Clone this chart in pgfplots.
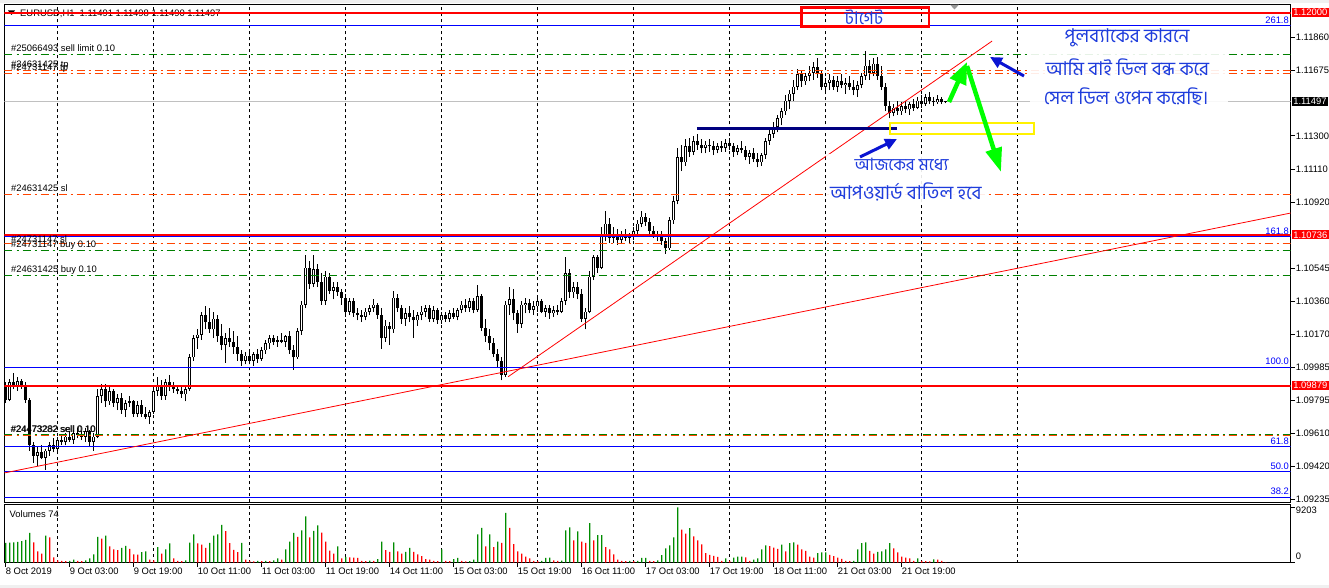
\documentclass[border=0pt]{standalone}
\usepackage{fontspec}
\usepackage{pgfplots}
\usepackage{pgfplotstable}
\pgfplotsset{compat=1.18}
\usetikzlibrary{arrows.meta}
\setmainfont{Liberation Sans}
\newfontfamily\bn[Script=Bengali]{Hind Siliguri}

\definecolor{mtgreen}{RGB}{0,128,0}
\definecolor{mtorange}{RGB}{255,69,0}
\definecolor{mtnavy}{RGB}{0,0,128}
\definecolor{mtlime}{RGB}{0,255,0}
\definecolor{mtbid}{RGB}{192,192,192}
\definecolor{fibblue}{RGB}{0,0,255}
\definecolor{notblue}{RGB}{30,60,220}
\definecolor{arrblue}{RGB}{10,20,210}
\definecolor{chrome}{RGB}{240,240,240}
\definecolor{volup}{RGB}{0,140,0}
\definecolor{voldn}{RGB}{255,0,0}

\newcommand\lbl{\fontsize{9.4}{10}\selectfont}

% H1 bars, bar 0 = 8 Oct 2019 11:00; v = tick volume, u = 1 when volume rose
\pgfplotstableread{
i o h l c v u
0 1.09870 1.09900 1.09780 1.09800 3300 1
1 1.09800 1.09920 1.09790 1.09900 3350 1
2 1.09900 1.09950 1.09860 1.09880 3400 1
3 1.09880 1.09930 1.09850 1.09905 3450 1
4 1.09905 1.09920 1.09860 1.09875 3600 1
5 1.09875 1.09900 1.09780 1.09800 3800 1
6 1.09800 1.09810 1.09510 1.09540 4950 1
7 1.09540 1.09560 1.09440 1.09480 3400 0
8 1.09480 1.09530 1.09420 1.09500 1900 0
9 1.09500 1.09540 1.09460 1.09470 1500 0
10 1.09470 1.09520 1.09400 1.09510 4500 1
11 1.09510 1.09560 1.09480 1.09540 4200 0
12 1.09540 1.09580 1.09500 1.09520 900 0
13 1.09520 1.09590 1.09500 1.09570 400 0
14 1.09570 1.09600 1.09540 1.09560 300 0
15 1.09560 1.09610 1.09540 1.09590 250 0
16 1.09590 1.09620 1.09560 1.09570 300 1
17 1.09570 1.09630 1.09550 1.09610 500 1
18 1.09610 1.09640 1.09580 1.09600 300 0
19 1.09600 1.09620 1.09570 1.09590 250 0
20 1.09590 1.09640 1.09560 1.09620 400 1
21 1.09620 1.09630 1.09530 1.09560 700 1
22 1.09560 1.09610 1.09510 1.09590 1400 1
23 1.09590 1.09860 1.09580 1.09820 4300 1
24 1.09820 1.09890 1.09780 1.09860 4000 0
25 1.09860 1.09890 1.09760 1.09790 4500 1
26 1.09790 1.09880 1.09770 1.09850 2700 0
27 1.09850 1.09860 1.09760 1.09780 2200 0
28 1.09780 1.09830 1.09740 1.09810 2100 0
29 1.09810 1.09840 1.09720 1.09740 2450 1
30 1.09740 1.09800 1.09700 1.09780 2800 1
31 1.09780 1.09820 1.09760 1.09790 2300 0
32 1.09790 1.09800 1.09700 1.09720 1400 0
33 1.09720 1.09790 1.09700 1.09770 1350 0
34 1.09770 1.09800 1.09700 1.09720 1750 1
35 1.09720 1.09760 1.09690 1.09700 1900 1
36 1.09700 1.09740 1.09660 1.09730 500 0
37 1.09730 1.09870 1.09720 1.09850 400 0
38 1.09850 1.09930 1.09820 1.09880 2600 1
39 1.09880 1.09910 1.09800 1.09820 1500 0
40 1.09820 1.09920 1.09800 1.09900 2200 1
41 1.09900 1.09940 1.09850 1.09870 3200 1
42 1.09870 1.09900 1.09840 1.09860 700 0
43 1.09860 1.09880 1.09830 1.09850 300 0
44 1.09850 1.09870 1.09810 1.09830 250 0
45 1.09830 1.09880 1.09790 1.09860 400 1
46 1.09860 1.10060 1.09850 1.10040 3350 1
47 1.10040 1.10170 1.10020 1.10150 4700 1
48 1.10150 1.10200 1.10090 1.10170 3200 0
49 1.10170 1.10300 1.10140 1.10280 3000 0
50 1.10280 1.10330 1.10200 1.10240 2450 0
51 1.10240 1.10320 1.10180 1.10200 3300 1
52 1.10200 1.10300 1.10150 1.10260 4500 1
53 1.10260 1.10280 1.10130 1.10160 4700 1
54 1.10160 1.10230 1.10080 1.10110 6300 1
55 1.10110 1.10180 1.10010 1.10150 5250 0
56 1.10150 1.10210 1.10100 1.10130 3250 0
57 1.10130 1.10190 1.10060 1.10100 2150 0
58 1.10100 1.10160 1.10020 1.10060 1750 0
59 1.10060 1.10080 1.09990 1.10020 3300 1
60 1.10020 1.10070 1.10000 1.10050 500 0
61 1.10050 1.10080 1.10000 1.10020 300 0
62 1.10020 1.10070 1.09990 1.10060 200 0
63 1.10060 1.10090 1.10010 1.10030 300 1
64 1.10030 1.10100 1.10020 1.10080 250 0
65 1.10080 1.10140 1.10060 1.10120 300 1
66 1.10120 1.10170 1.10090 1.10150 250 0
67 1.10150 1.10170 1.10110 1.10130 400 1
68 1.10130 1.10160 1.10100 1.10140 700 1
69 1.10140 1.10180 1.10120 1.10130 500 0
70 1.10130 1.10170 1.10100 1.10160 2200 1
71 1.10160 1.10190 1.10060 1.10080 3500 1
72 1.10080 1.10110 1.09970 1.10040 4950 1
73 1.10040 1.10210 1.10030 1.10190 4300 0
74 1.10190 1.10360 1.10170 1.10340 5400 1
75 1.10340 1.10620 1.10320 1.10550 7700 1
76 1.10550 1.10590 1.10430 1.10460 4200 0
77 1.10460 1.10620 1.10440 1.10540 5300 1
78 1.10540 1.10570 1.10440 1.10470 6200 1
79 1.10470 1.10520 1.10340 1.10360 5000 0
80 1.10360 1.10530 1.10340 1.10500 3500 0
81 1.10500 1.10520 1.10400 1.10420 2000 0
82 1.10420 1.10470 1.10370 1.10440 1500 0
83 1.10440 1.10470 1.10390 1.10410 2700 1
84 1.10410 1.10430 1.10340 1.10380 700 0
85 1.10380 1.10400 1.10270 1.10300 950 1
86 1.10300 1.10380 1.10280 1.10360 900 0
87 1.10360 1.10380 1.10270 1.10290 850 0
88 1.10290 1.10320 1.10250 1.10280 800 0
89 1.10280 1.10310 1.10240 1.10270 300 0
90 1.10270 1.10320 1.10250 1.10300 250 0
91 1.10300 1.10340 1.10280 1.10320 350 1
92 1.10320 1.10370 1.10300 1.10340 300 0
93 1.10340 1.10350 1.10260 1.10280 600 1
94 1.10280 1.10320 1.10090 1.10150 3500 1
95 1.10150 1.10250 1.10130 1.10220 2100 0
96 1.10220 1.10240 1.10110 1.10200 1800 0
97 1.10200 1.10420 1.10180 1.10380 3400 1
98 1.10380 1.10400 1.10300 1.10320 1900 0
99 1.10320 1.10340 1.10230 1.10260 1500 0
100 1.10260 1.10320 1.10220 1.10290 1800 1
101 1.10290 1.10330 1.10240 1.10270 2450 1
102 1.10270 1.10310 1.10150 1.10250 1800 0
103 1.10250 1.10300 1.10220 1.10280 1400 0
104 1.10280 1.10330 1.10250 1.10300 1100 0
105 1.10300 1.10340 1.10270 1.10320 600 0
106 1.10320 1.10340 1.10240 1.10260 500 0
107 1.10260 1.10330 1.10240 1.10310 300 0
108 1.10310 1.10320 1.10230 1.10250 250 0
109 1.10250 1.10300 1.10230 1.10280 2200 1
110 1.10280 1.10300 1.10240 1.10260 300 0
111 1.10260 1.10310 1.10240 1.10290 250 0
112 1.10290 1.10320 1.10260 1.10270 600 1
113 1.10270 1.10320 1.10250 1.10310 800 1
114 1.10310 1.10360 1.10290 1.10340 300 0
115 1.10340 1.10370 1.10300 1.10320 200 0
116 1.10320 1.10380 1.10300 1.10360 250 1
117 1.10360 1.10380 1.10290 1.10310 500 1
118 1.10310 1.10450 1.10300 1.10390 4700 1
119 1.10390 1.10400 1.10190 1.10210 5800 1
120 1.10210 1.10260 1.10130 1.10160 2700 0
121 1.10160 1.10200 1.10080 1.10120 4700 1
122 1.10120 1.10150 1.10040 1.10060 2600 0
123 1.10060 1.10090 1.09980 1.10020 3500 1
124 1.10020 1.10040 1.09910 1.09940 3300 0
125 1.09940 1.10360 1.09930 1.10340 8300 1
126 1.10340 1.10440 1.10280 1.10370 5800 0
127 1.10370 1.10430 1.10250 1.10290 3100 0
128 1.10290 1.10310 1.10180 1.10230 1900 0
129 1.10230 1.10360 1.10210 1.10340 1500 0
130 1.10340 1.10380 1.10290 1.10350 1000 0
131 1.10350 1.10370 1.10290 1.10310 700 0
132 1.10310 1.10360 1.10280 1.10330 300 0
133 1.10330 1.10380 1.10300 1.10360 250 0
134 1.10360 1.10370 1.10290 1.10300 300 1
135 1.10300 1.10340 1.10270 1.10320 800 1
136 1.10320 1.10340 1.10260 1.10290 850 1
137 1.10290 1.10330 1.10270 1.10310 400 0
138 1.10310 1.10340 1.10280 1.10300 300 0
139 1.10300 1.10380 1.10290 1.10360 350 1
140 1.10360 1.10610 1.10340 1.10520 5400 1
141 1.10520 1.10540 1.10380 1.10410 5900 1
142 1.10410 1.10470 1.10380 1.10440 3700 0
143 1.10440 1.10470 1.10370 1.10400 5200 1
144 1.10400 1.10430 1.10240 1.10260 3500 0
145 1.10260 1.10320 1.10200 1.10300 3300 0
146 1.10300 1.10530 1.10290 1.10500 6600 1
147 1.10500 1.10620 1.10480 1.10610 3700 0
148 1.10610 1.10620 1.10520 1.10550 4600 1
149 1.10550 1.10780 1.10540 1.10740 4600 1
150 1.10740 1.10870 1.10700 1.10800 2600 0
151 1.10800 1.10830 1.10690 1.10720 2200 0
152 1.10720 1.10780 1.10690 1.10740 1400 0
153 1.10740 1.10770 1.10680 1.10710 500 0
154 1.10710 1.10760 1.10690 1.10740 300 0
155 1.10740 1.10770 1.10700 1.10720 250 0
156 1.10720 1.10750 1.10690 1.10730 300 1
157 1.10730 1.10780 1.10710 1.10760 250 0
158 1.10760 1.10820 1.10740 1.10800 300 1
159 1.10800 1.10870 1.10780 1.10840 800 1
160 1.10840 1.10860 1.10790 1.10810 800 1
161 1.10810 1.10830 1.10740 1.10760 300 0
162 1.10760 1.10790 1.10720 1.10740 250 0
163 1.10740 1.10760 1.10700 1.10730 400 1
164 1.10730 1.10760 1.10680 1.10700 1250 1
165 1.10700 1.10720 1.10630 1.10660 2400 1
166 1.10660 1.10840 1.10650 1.10820 2900 1
167 1.10820 1.10960 1.10800 1.10930 4240 1
168 1.10930 1.11230 1.10910 1.11180 9203 1
169 1.11180 1.11250 1.11100 1.11150 5500 0
170 1.11150 1.11280 1.11130 1.11240 4840 0
171 1.11240 1.11290 1.11180 1.11210 5760 1
172 1.11210 1.11300 1.11190 1.11270 4400 0
173 1.11270 1.11310 1.11220 1.11250 3700 0
174 1.11250 1.11280 1.11200 1.11230 3050 0
175 1.11230 1.11270 1.11200 1.11250 1580 0
176 1.11250 1.11280 1.11210 1.11240 1300 0
177 1.11240 1.11270 1.11190 1.11220 1150 0
178 1.11220 1.11260 1.11200 1.11240 950 0
179 1.11240 1.11270 1.11210 1.11230 300 0
180 1.11230 1.11280 1.11210 1.11260 700 1
181 1.11260 1.11290 1.11220 1.11240 300 0
182 1.11240 1.11260 1.11180 1.11210 850 1
183 1.11210 1.11250 1.11190 1.11230 1000 1
184 1.11230 1.11270 1.11200 1.11220 1000 1
185 1.11220 1.11240 1.11160 1.11180 900 0
186 1.11180 1.11220 1.11140 1.11200 300 0
187 1.11200 1.11230 1.11150 1.11170 500 1
188 1.11170 1.11200 1.11120 1.11150 700 1
189 1.11150 1.11200 1.11130 1.11190 2230 1
190 1.11190 1.11290 1.11170 1.11270 2900 1
191 1.11270 1.11340 1.11250 1.11310 2750 0
192 1.11310 1.11380 1.11290 1.11350 2500 0
193 1.11350 1.11420 1.11320 1.11400 2300 0
194 1.11400 1.11460 1.11360 1.11440 3000 1
195 1.11440 1.11530 1.11420 1.11500 1900 0
196 1.11500 1.11560 1.11450 1.11540 3250 1
197 1.11540 1.11620 1.11500 1.11580 3400 1
198 1.11580 1.11680 1.11560 1.11650 3000 0
199 1.11650 1.11670 1.11580 1.11610 2230 0
200 1.11610 1.11660 1.11590 1.11640 1950 0
201 1.11640 1.11700 1.11610 1.11660 1000 0
202 1.11660 1.11720 1.11620 1.11690 850 0
203 1.11690 1.11740 1.11630 1.11650 1600 1
204 1.11650 1.11670 1.11560 1.11580 1700 1
205 1.11580 1.11630 1.11540 1.11600 1700 1
206 1.11600 1.11650 1.11560 1.11620 1300 0
207 1.11620 1.11640 1.11560 1.11580 1100 0
208 1.11580 1.11640 1.11550 1.11610 850 0
209 1.11610 1.11650 1.11570 1.11590 650 0
210 1.11590 1.11630 1.11540 1.11600 300 0
211 1.11600 1.11640 1.11560 1.11580 250 0
212 1.11580 1.11620 1.11530 1.11560 300 1
213 1.11560 1.11610 1.11520 1.11590 2230 1
214 1.11590 1.11660 1.11570 1.11640 3250 1
215 1.11640 1.11780 1.11620 1.11700 3400 1
216 1.11700 1.11730 1.11620 1.11660 1950 0
217 1.11660 1.11740 1.11640 1.11710 1500 0
218 1.11710 1.11750 1.11620 1.11640 1800 1
219 1.11640 1.11700 1.11560 1.11580 1900 1
220 1.11580 1.11600 1.11440 1.11470 2230 1
221 1.11470 1.11500 1.11400 1.11430 3250 1
222 1.11430 1.11480 1.11410 1.11460 2400 0
223 1.11460 1.11500 1.11420 1.11440 1700 0
224 1.11440 1.11490 1.11420 1.11470 1000 0
225 1.11470 1.11500 1.11430 1.11450 850 0
226 1.11450 1.11490 1.11420 1.11480 700 0
227 1.11480 1.11510 1.11440 1.11460 300 0
228 1.11460 1.11520 1.11450 1.11500 700 1
229 1.11500 1.11530 1.11460 1.11480 300 0
230 1.11480 1.11540 1.11470 1.11520 250 0
231 1.11520 1.11550 1.11480 1.11500 200 0
232 1.11500 1.11520 1.11470 1.11490 550 1
233 1.11490 1.11530 1.11480 1.11510 500 0
234 1.11510 1.11520 1.11480 1.11490 300 0
235 1.11490 1.11500 1.11485 1.11497 74 0
}\bars

\begin{document}
\begin{tikzpicture}
\useasboundingbox (0,0) rectangle (1329pt,588pt);
\fill[white] (0,0) rectangle (1329pt,588pt);
\fill[chrome] (0,585pt) rectangle (1329pt,588pt);
\fill[chrome] (0,0) rectangle (1329pt,3pt);

% header (under the level lines)
\begin{scope}[shift={(0pt,588pt)}, x=1pt, y=-1pt]
\fill[black] (8,10.5) -- (15,10.5) -- (11.5,15) -- cycle;
\node[anchor=west, inner sep=0pt, font=\lbl, text height=6.6pt, text depth=0pt] at (20,13)
  {EURUSD,H1\ \ 1.11491 1.11498 1.11490 1.11497};
\end{scope}

% ---------------- price window ----------------
\begin{axis}[
  at={(4.5pt,85.7pt)}, anchor=south west, scale only axis,
  width=1286.2pt, height=497.8pt,
  xmin=-0.3, xmax=321.25, ymin=1.09216, ymax=1.12047,
  axis line style={line width=0.8pt},
  xtick=\empty,
  extra x ticks={13,37,61,85,109,133,157,181,205,229,253},
  extra x tick labels={},
  extra x tick style={grid=major, major tick length=0pt},
  major grid style={black, line width=0.8pt, dash pattern=on 3pt off 3pt},
  ytick pos=right, tick align=outside, major tick length=4pt,
  every tick/.style={black, line width=0.8pt},
  ytick={1.09235,1.09420,1.09610,1.09795,1.09985,1.10170,1.10360,1.10545,1.10920,1.11110,1.11300,1.11675,1.11860},
  yticklabels={1.09235,1.09420,1.09610,1.09795,1.09985,1.10170,1.10360,1.10545,1.10920,1.11110,1.11300,1.11675,1.11860},
  yticklabel style={font=\lbl, inner sep=1pt},
]
% bid line
\addplot[mtbid, line width=0.8pt] coordinates {(-0.3,1.11497) (321.25,1.11497)};

% candles: wicks, bear bodies, bull bodies (outline + white core)
\addplot[black, line width=1pt, quiver={u=0, v=\thisrow{h}-\thisrow{l}}]
  table[x=i, y=l] {\bars};
\addplot[black, line width=3pt, quiver={u=0, v=\thisrow{o}-\thisrow{c}}]
  table[x=i, y expr={\thisrow{c}<\thisrow{o} ? \thisrow{c} : nan}] {\bars};
\addplot[black, line width=3pt, quiver={u=0, v={max(\thisrow{c}-\thisrow{o},0.00002)}}]
  table[x=i, y expr={\thisrow{c}>=\thisrow{o} ? \thisrow{o} : nan}] {\bars};
\addplot[white, line width=1.2pt, quiver={u=0, v=\thisrow{c}-\thisrow{o}-0.00008}]
  table[x=i, y expr={\thisrow{c}-\thisrow{o}>0.0001 ? \thisrow{o}+0.00004 : nan}] {\bars};

% order levels
\addplot[mtgreen, line width=0.8pt, dash pattern=on 8pt off 4pt on 2pt off 4pt] coordinates {(-0.3,1.11765) (321.25,1.11765)};
\addplot[mtorange, line width=0.8pt, dash pattern=on 8pt off 4pt on 2pt off 4pt] coordinates {(-0.3,1.11674) (321.25,1.11674)};
\addplot[mtorange, line width=0.8pt, dash pattern=on 8pt off 4pt on 2pt off 4pt] coordinates {(-0.3,1.11653) (321.25,1.11653)};
\addplot[mtorange, line width=0.8pt, dash pattern=on 8pt off 4pt on 2pt off 4pt] coordinates {(-0.3,1.10967) (321.25,1.10967)};
\addplot[mtorange, line width=0.8pt, dash pattern=on 8pt off 4pt on 2pt off 4pt] coordinates {(-0.3,1.10689) (321.25,1.10689)};
\addplot[mtgreen, line width=0.8pt, dash pattern=on 8pt off 4pt on 2pt off 4pt] coordinates {(-0.3,1.10649) (321.25,1.10649)};
\addplot[mtgreen, line width=0.8pt, dash pattern=on 8pt off 4pt on 2pt off 4pt] coordinates {(-0.3,1.10507) (321.25,1.10507)};
\addplot[mtorange, line width=0.8pt, dash pattern=on 8pt off 4pt on 2pt off 4pt] coordinates {(-0.3,1.09598) (321.25,1.09598)};
\addplot[mtgreen, line width=0.8pt, dash pattern=on 8pt off 4pt on 2pt off 4pt] coordinates {(-0.3,1.09603) (321.25,1.09603)};

% fibonacci levels
\addplot[fibblue, line width=0.8pt] coordinates {(-0.3,1.11926) (321.25,1.11926)};
\addplot[fibblue, line width=0.8pt] coordinates {(-0.3,1.10726) (321.25,1.10726)};
\addplot[fibblue, line width=0.8pt] coordinates {(-0.3,1.09984) (321.25,1.09984)};
\addplot[fibblue, line width=0.8pt] coordinates {(-0.3,1.09532) (321.25,1.09532)};
\addplot[fibblue, line width=0.8pt] coordinates {(-0.3,1.09390) (321.25,1.09390)};
\addplot[fibblue, line width=0.8pt] coordinates {(-0.3,1.09246) (321.25,1.09246)};

% horizontal support / resistance
\addplot[red, line width=2pt] coordinates {(-0.3,1.12000) (321.25,1.12000)};
\addplot[red, line width=2pt] coordinates {(-0.3,1.10736) (321.25,1.10736)};
\addplot[red, line width=2pt] coordinates {(-0.3,1.09879) (321.25,1.09879)};

% trend lines
\addplot[red, line width=0.8pt] coordinates {(-0.3,1.09383) (321.25,1.10861)};
\addplot[red, line width=0.8pt] coordinates {(125.6,1.09930) (246.6,1.11839)};

% breakout level and zone
\addplot[mtnavy, line width=3pt] coordinates {(172.8,1.11344) (222.8,1.11344)};
\draw[yellow, line width=2pt] (axis cs:221.1,1.11310) rectangle (axis cs:257.1,1.11373);
\end{axis}

% ---------------- volume window ----------------
\begin{axis}[
  at={(4.5pt,25.3pt)}, anchor=south west, scale only axis,
  width=1286.2pt, height=58.2pt,
  xmin=-0.3, xmax=321.25, ymin=0, ymax=9700,
  axis line style={line width=0.8pt},
  xtick={0,16,...,224},
  xticklabels={8 Oct 2019,9 Oct 03:00,9 Oct 19:00,10 Oct 11:00,11 Oct 03:00,11 Oct 19:00,14 Oct 11:00,15 Oct 03:00,15 Oct 19:00,16 Oct 11:00,17 Oct 03:00,17 Oct 19:00,18 Oct 11:00,21 Oct 03:00,21 Oct 19:00},
  xtick pos=bottom, ytick pos=right, tick align=outside, major tick length=4pt,
  every tick/.style={black, line width=0.8pt},
  xticklabel style={font=\lbl, anchor=north west, inner sep=1pt, xshift=-1pt},
  extra x ticks={13,37,61,85,109,133,157,181,205,229,253},
  extra x tick labels={},
  extra x tick style={grid=major, major tick length=0pt},
  major grid style={black, line width=0.8pt, dash pattern=on 3pt off 3pt},
  ytick={0}, yticklabels={0},
  yticklabel style={font=\lbl, inner sep=1pt, yshift=6pt},
  extra y ticks={9203}, extra y tick labels={9203},
  extra y tick style={yticklabel style={yshift=-8.5pt}},
]
\addplot[ybar, bar width=1.2pt, bar shift=0pt, draw=none, fill=volup]
  table[x=i, y expr={\thisrow{u}>0.5 ? \thisrow{v} : nan}] {\bars};
\addplot[ybar, bar width=1.2pt, bar shift=0pt, draw=none, fill=voldn]
  table[x=i, y expr={\thisrow{u}<0.5 ? \thisrow{v} : nan}] {\bars};
\end{axis}

% ---------------- texts and drawings ----------------
\begin{scope}[shift={(0pt,588pt)}, x=1pt, y=-1pt,
  every node/.style={inner sep=0pt, font=\lbl, text height=6.6pt, text depth=0pt}]
% chart shift marker
\fill[black!40] (950,4.6) -- (959,4.6) -- (954.5,9.5) -- cycle;

% order labels (they overlap in the terminal as well)
\node[anchor=west] at (11,48.5) {\#25066493 sell limit 0.10};
\node[anchor=west] at (11,64) {\#24631425 tp};
\node[anchor=west] at (11,67.5) {\#24731147 tp};
\node[anchor=west] at (11,188.5) {\#24631425 sl};
\node[anchor=west] at (11,239.7) {\#24731147 sl};
\node[anchor=west] at (11,244) {\#24731147 buy 0.10};
\node[anchor=west] at (11,269.3) {\#24631425 buy 0.10};
\node[anchor=west] at (10.4,429) {\#24473282 sell 0.10};
\node[anchor=west] at (11,429) {\#24473282 sell 0.10};

% fibonacci labels
\node[anchor=east, text=fibblue] at (1289,20.7) {261.8};
\node[anchor=east, text=fibblue] at (1289,231.3) {161.8};
\node[anchor=east, text=fibblue] at (1289,361.7) {100.0};
\node[anchor=east, text=fibblue] at (1289,441.7) {61.8};
\node[anchor=east, text=fibblue] at (1289,466.7) {50.0};
\node[anchor=east, text=fibblue] at (1289,491.3) {38.2};

% highlighted prices on the scale
\node[anchor=west, fill=red, text=white, inner xsep=1.6pt, inner ysep=1.2pt] at (1291.5,12.7) {1.12000};
\node[anchor=west, fill=black, text=white, inner xsep=1.6pt, inner ysep=1.2pt] at (1291.5,101.2) {1.11497};
\node[anchor=west, fill=red, text=white, inner xsep=1.6pt, inner ysep=1.2pt] at (1291.5,235.0) {1.10736};
\node[anchor=west, fill=red, text=white, inner xsep=1.6pt, inner ysep=1.2pt] at (1291.5,385.7) {1.09879};

\node[anchor=west] at (9.5,514) {Volumes 74};

% target box
\draw[red, line width=2.5pt] (801.5,7.5) rectangle (929,26.5);
\node[text=notblue, font=\bn\fontsize{17.5}{18}\selectfont, text height=, text depth=] at (864,17) {টাগেট};

% notes
\fill[white, opacity=0.9] (1030,27) rectangle (1228,109);
\fill[white, opacity=0.9] (826,154) rectangle (988,204);
\begin{scope}[every node/.style={text=notblue, font=\bn\fontsize{19}{20}\selectfont, inner sep=0pt}]
\node at (1127,38.3) {পুলব্যাকের কারনে};
\node at (1127.5,67.5) {আমি বাই ডিল বন্ধ করে};
\node at (1126,96.5) {সেল ডিল ওপেন করেছি।};
\node[font=\bn\fontsize{17}{18}\selectfont] at (901.7,165) {আজকের মধ্যে};
\node at (905.8,191.7) {আপওয়ার্ড বাতিল হবে};
\end{scope}

% arrows
\draw[mtlime, line width=4.5pt, -{Triangle[length=22pt,width=17pt]}] (949,102) -- (967,62);
\draw[mtlime, line width=4.5pt, -{Triangle[length=24pt,width=16pt]}] (967,66) -- (1001,172);
\draw[arrblue, line width=3pt, -{Triangle[length=12pt,width=11pt]}] (1024,76) -- (990,57);
\draw[arrblue, line width=3pt, -{Triangle[length=12pt,width=11pt]}] (860,157) -- (897,139);
\end{scope}
\end{tikzpicture}
\end{document}
